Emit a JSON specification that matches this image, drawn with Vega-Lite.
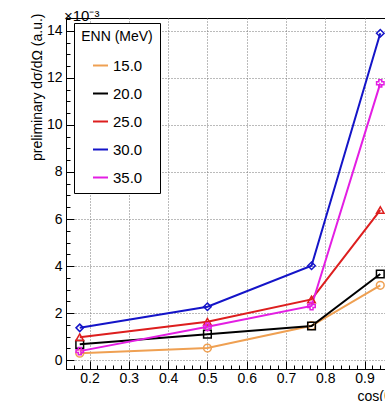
{
  "$schema": "https://vega.github.io/schema/vega-lite/v6.json",
  "autosize": {"type": "none"},
  "width": 319,
  "height": 351,
  "padding": {"left": 66, "top": 18, "right": 0, "bottom": 32},
  "background": "white",
  "config": {
    "font": "Liberation Sans",
    "view": {"stroke": "#000", "strokeWidth": 1},
    "axis": {"domainColor": "#000", "tickColor": "#000", "labelColor": "#000", "titleColor": "#000", "labelFont": "Liberation Sans", "titleFont": "Liberation Sans", "titleFontWeight": "normal"}
  },
  "title": {"text": "×10⁻³", "anchor": "start", "frame": "group", "fontSize": 15, "fontWeight": "normal", "color": "#000", "offset": 3, "dy": 27, "dx": -2, "baseline": "alphabetic", "font": "Liberation Sans"},
  "data": {"values": [
    {"E": "15.0", "x": 0.175, "y": 0.29},
    {"E": "15.0", "x": 0.5, "y": 0.51},
    {"E": "15.0", "x": 0.765, "y": 1.46},
    {"E": "15.0", "x": 0.94, "y": 3.18},
    {"E": "20.0", "x": 0.175, "y": 0.67},
    {"E": "20.0", "x": 0.5, "y": 1.10},
    {"E": "20.0", "x": 0.765, "y": 1.45},
    {"E": "20.0", "x": 0.94, "y": 3.66},
    {"E": "25.0", "x": 0.175, "y": 0.97},
    {"E": "25.0", "x": 0.5, "y": 1.63},
    {"E": "25.0", "x": 0.765, "y": 2.58},
    {"E": "25.0", "x": 0.94, "y": 6.38},
    {"E": "30.0", "x": 0.175, "y": 1.37},
    {"E": "30.0", "x": 0.5, "y": 2.27},
    {"E": "30.0", "x": 0.765, "y": 4.01},
    {"E": "30.0", "x": 0.94, "y": 13.9},
    {"E": "35.0", "x": 0.175, "y": 0.38},
    {"E": "35.0", "x": 0.5, "y": 1.42},
    {"E": "35.0", "x": 0.765, "y": 2.30},
    {"E": "35.0", "x": 0.94, "y": 11.77}
  ]},
  "encoding": {
    "x": {"field": "x", "type": "quantitative",
      "scale": {"domain": [0.14, 0.952], "nice": false, "zero": false},
      "axis": {
        "title": "cos(θ)", "titleFontSize": 14, "titleX": 291, "titleY": 27, "titleAlign": "left", "titleBaseline": "middle", "titleAnchor": null,
        "values": [0.14,0.16,0.18,0.2,0.22,0.24,0.26,0.28,0.3,0.32,0.34,0.36,0.38,0.4,0.42,0.44,0.46,0.48,0.5,0.52,0.54,0.56,0.58,0.6,0.62,0.64,0.66,0.68,0.7,0.72,0.74,0.76,0.78,0.8,0.82,0.84,0.86,0.88,0.9,0.92,0.94],
        "labelExpr": "abs(datum.value*10 - round(datum.value*10)) < 0.001 ? format(datum.value, '.1f') : ''",
        "labelOverlap": false, "labelFontSize": 14, "labelPadding": 10, "labelFlush": false,
        "tickSize": {"condition": {"test": "abs(datum.value*10 - round(datum.value*10)) < 0.001", "value": -8}, "value": -4},
        "grid": true,
        "gridOpacity": {"condition": {"test": "abs(datum.value*10 - round(datum.value*10)) < 0.001", "value": 1}, "value": 0},
        "gridDash": [1, 2], "gridColor": "#777", "gridWidth": 1
      }
    },
    "y": {"field": "y", "type": "quantitative",
      "scale": {"domain": [-0.38, 14.55], "nice": false, "zero": false},
      "axis": {
        "title": "preliminary dσ/dΩ (a.u.)", "titleFontSize": 14, "titleX": -25, "titleY": -5, "titleAlign": "right", "titleBaseline": "alphabetic", "titleAngle": -90, "titleAnchor": null,
        "values": [0,0.5,1,1.5,2,2.5,3,3.5,4,4.5,5,5.5,6,6.5,7,7.5,8,8.5,9,9.5,10,10.5,11,11.5,12,12.5,13,13.5,14,14.5],
        "labelExpr": "datum.value % 2 == 0 ? format(datum.value, 'd') : ''",
        "labelOverlap": false, "labelFontSize": 14, "labelPadding": 12, "labelFlush": false,
        "tickSize": {"condition": {"test": "datum.value % 2 == 0", "value": -8}, "value": -4},
        "grid": true,
        "gridOpacity": {"condition": {"test": "datum.value % 2 == 0", "value": 1}, "value": 0},
        "gridDash": [1, 2], "gridColor": "#777", "gridWidth": 1
      }
    },
    "color": {"field": "E", "type": "nominal",
      "scale": {"domain": ["15.0", "20.0", "25.0", "30.0", "35.0"], "range": ["#EFA052", "#000000", "#DD1E1E", "#1414C8", "#E31EE3"]}
    }
  },
  "layer": [
    {"mark": {"type": "line", "strokeWidth": 2},
      "encoding": {
        "order": {"field": "x", "type": "quantitative"},
        "color": {"field": "E", "type": "nominal",
          "scale": {"domain": ["15.0", "20.0", "25.0", "30.0", "35.0"], "range": ["#EFA052", "#000000", "#DD1E1E", "#1414C8", "#E31EE3"]},
          "legend": {"title": "ENN (MeV)", "orient": "none", "legendX": 8, "legendY": 5, "fillColor": "white", "strokeColor": "#000", "padding": 7,
            "titleFontSize": 14, "titleFontWeight": "normal", "titleColor": "#000", "titleAnchor": "middle", "titlePadding": 13,
            "labelFontSize": 15, "labelColor": "#000", "labelOffset": 4, "rowPadding": 11,
            "symbolType": "stroke", "symbolSize": 225, "symbolStrokeWidth": 2}
        }
      }
    },
    {"mark": {"type": "point", "filled": false, "strokeWidth": 1.5, "opacity": 1},
      "encoding": {
        "color": {"field": "E", "type": "nominal", "legend": null},
        "shape": {"field": "E", "type": "nominal", "scale": {"domain": ["15.0", "20.0", "25.0", "30.0", "35.0"], "range": ["circle", "square", "triangle-up", "diamond", "cross"]}, "legend": null},
        "size": {"field": "E", "type": "nominal", "scale": {"domain": ["15.0", "20.0", "25.0", "30.0", "35.0"], "range": [60, 55, 60, 25, 30]}, "legend": null}
      }
    }
  ],
  "resolve": {"legend": {"color": "independent"}}
}
